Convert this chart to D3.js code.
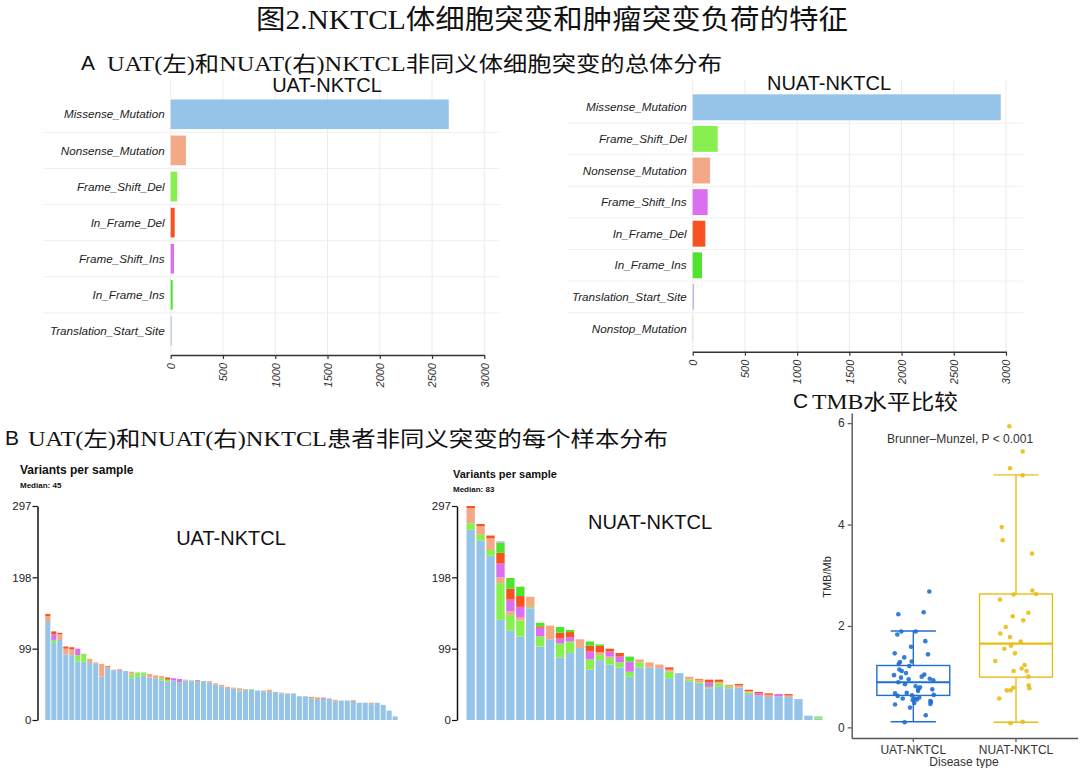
<!DOCTYPE html>
<html><head><meta charset="utf-8">
<script src="https://cdn.jsdelivr.net/npm/d3@7"></script>
<style>body{margin:0;background:#fff}</style>
</head><body><svg id="c" width="1080" height="768"></svg>
<script>
// ---------- DATA ----------
const classColors = {
  Missense_Mutation: "#95c4e8",
  Frame_Shift_Del: "#88f04e",
  Nonsense_Mutation: "#f4a986",
  Frame_Shift_Ins: "#da6ff0",
  In_Frame_Del: "#f7521f",
  In_Frame_Ins: "#4ee32c",
  Translation_Start_Site: "#b9b6ea",
  Nonstop_Mutation: "#efcfca"
};
const stackKeys = ["Missense_Mutation","Frame_Shift_Del","Nonsense_Mutation","Frame_Shift_Ins","In_Frame_Del","In_Frame_Ins","Translation_Start_Site"];

// Panel A
const uatClasses = ["Missense_Mutation","Nonsense_Mutation","Frame_Shift_Del","In_Frame_Del","Frame_Shift_Ins","In_Frame_Ins","Translation_Start_Site"];
const uatCounts = [2660,146,63,38,32,19,9];
const nuatClasses = ["Missense_Mutation","Frame_Shift_Del","Nonsense_Mutation","Frame_Shift_Ins","In_Frame_Del","In_Frame_Ins","Translation_Start_Site","Nonstop_Mutation"];
const nuatCounts = [2950,239,166,143,121,89,13,6];
const countTicks = [0,500,1000,1500,2000,2500,3000];

// Panel B (per sample, by variant class)
const uatMissense = [136,107,111,91,90,81,81,79,78,60,72,69,69,68,58,60,62,59,58,55,53,55,52,55,54,54,54,52,49,47,43,44,40,42,42,41,40,39,39,37,36,37,33,33,30,29,30,30,26,27,27,26,24,24,22,24,21,13,5];
const uatFSDel    = [0,4,0,0,0,9,11,0,0,0,0,0,0,0,5,6,4,0,0,3,3,0,0,0,1,0,0,0,0,0,0,0,1,0,1,0,0,0,0,0,0,0,0,0,1,0,0,0,0,0,0,0,0,0,0,0,0,0,0];
const uatNonsense = [8,0,8,8,8,0,0,6,2,18,2,1,0,0,4,0,0,5,4,3,0,0,0,1,0,0,0,2,2,2,3,1,3,1,0,0,1,3,0,1,1,0,0,0,0,1,0,0,2,0,0,0,0,0,2,0,0,0,0];
const uatFSIns    = [0,8,0,0,0,9,0,0,0,0,0,0,0,0,0,0,0,0,0,0,0,3,5,0,0,0,0,0,0,0,0,0,0,0,0,0,0,0,0,0,0,0,0,0,0,0,0,0,0,0,0,0,0,0,0,0,0,0,0];
const uatIFDel    = [3,4,2,3,3,0,0,0,0,0,1,0,1,0,0,0,0,0,0,0,3,0,0,0,0,1,0,0,0,0,0,0,0,0,0,0,0,0,0,0,0,0,0,0,1,1,1,0,0,0,0,1,0,0,0,0,0,0,0];

const nuatMissense = [264,249,228,139,124,116,155,102,112,87,93,100,70,83,77,73,60,73,73,72,58,65,53,50,44,46,44,45,36,34,32,33,32,29,6,2];
const nuatFSDel    = [9,8,8,51,22,22,2,14,0,19,16,0,14,7,9,7,7,7,0,0,9,0,3,2,2,5,2,0,2,0,0,0,0,0,0,3];
const nuatNonsense = [21,12,16,8,5,4,14,0,19,0,0,12,0,4,2,0,0,4,7,5,3,0,4,4,0,2,3,3,2,0,3,0,2,0,0,0];
const nuatFSIns    = [0,0,0,19,16,15,0,12,0,7,6,0,11,0,7,8,14,0,0,0,0,0,0,0,6,0,0,0,0,3,0,3,0,0,0,0];
const nuatIFDel    = [3,3,4,15,15,15,0,2,0,8,7,0,8,9,4,5,0,0,0,0,3,0,0,1,4,3,0,2,2,2,2,0,2,0,0,0];
const nuatIFIns    = [0,0,0,14,15,13,0,5,0,8,3,0,6,2,0,0,7,0,0,0,0,0,0,0,0,0,0,0,0,0,0,0,0,0,0,0];
const nuatTSS      = [0,0,0,2,0,0,0,0,0,0,0,0,0,0,0,0,0,0,0,0,0,0,0,0,0,0,0,0,0,0,0,0,0,0,0,0];
const variantTicks = [0,99,198,297];

// Panel C (TMB per sample; jitter = horizontal offset in category widths)
const tmbGroups = ["UAT-NKTCL","NUAT-NKTCL"];
const uatTMB = [2.68,2.23,2.27,1.89,1.89,1.83,1.70,1.59,1.46,1.44,1.38,1.29,1.30,1.25,1.21,1.14,1.11,1.07,1.03,1.04,0.96,1.00,0.93,0.89,0.85,0.81,0.79,0.75,0.75,0.67,0.68,0.62,0.64,0.57,0.57,0.59,0.54,0.52,0.48,0.46,0.45,0.39,0.24,0.10,0.50,0.63,0.98,0.95,0.72,0.55];
const uatJitter = [0.156,-0.146,0.101,-0.117,0.023,-0.156,0.117,-0.022,-0.181,0.143,-0.088,-0.130,-0.016,-0.142,-0.039,-0.136,-0.113,-0.071,-0.188,0.107,0.160,0.082,0.195,-0.146,-0.081,0.023,0.065,0.049,0.185,-0.178,-0.064,-0.152,0.199,-0.103,0.017,0.058,-0.006,0.166,0.010,0.166,-0.178,-0.032,0.121,-0.084,0.172,-0.013,-0.120,-0.045,0.046,0.036];
const nuatTMB = [5.94,5.44,5.11,4.97,3.95,3.69,3.43,2.70,2.63,2.62,2.52,2.26,2.19,2.11,1.98,1.85,1.78,1.69,1.61,1.55,1.46,1.31,1.23,1.16,1.11,1.11,1.00,0.83,0.77,0.78,0.73,0.73,0.57,0.08,0.11];
const nuatJitter = [-0.065,0.065,-0.058,0.065,-0.139,-0.130,0.156,0.159,0.195,-0.023,-0.156,0.120,-0.032,0.071,-0.100,-0.153,-0.058,0.045,-0.049,-0.114,-0.010,-0.202,0.084,0.055,-0.023,0.103,0.120,0.124,0.130,-0.026,-0.090,-0.052,-0.163,-0.052,0.065];
const tmbStats = { // whisker low, q1, median, q3, whisker high
  "UAT-NKTCL":  [0.11,0.63,0.89,1.22,1.90],
  "NUAT-NKTCL": [0.10,0.99,1.65,2.63,4.98]
};
const tmbColors = {"UAT-NKTCL":"#1f6fd1","NUAT-NKTCL":"#e9bd14"};
const tmbTicks = [0,2,4,6];

// ---------- DRAW ----------
const svg = d3.select("#c");
const SANS = "'Liberation Sans', Arial, sans-serif";
const SERIF = "'Liberation Serif','Noto Sans CJK SC',serif";

// Headings
svg.append("text").attr("x",256).attr("y",29).attr("font-family",SERIF).attr("font-size",27)
  .attr("textLength",592).attr("lengthAdjust","spacingAndGlyphs").attr("fill","#111")
  .text("图2.NKTCL体细胞突变和肿瘤突变负荷的特征");
function heading(letter, lx, text, tx, y, len){
  svg.append("text").attr("x",lx).attr("y",y-1).attr("font-family",SANS).attr("font-size",21).attr("fill","#111").text(letter);
  svg.append("text").attr("x",tx).attr("y",y).attr("font-family",SERIF).attr("font-size",21)
    .attr("textLength",len).attr("lengthAdjust","spacingAndGlyphs").attr("fill","#111").text(text);
}
heading("A",81,"UAT(左)和NUAT(右)NKTCL非同义体细胞突变的总体分布",107,71,615);
heading("B",5,"UAT(左)和NUAT(右)NKTCL患者非同义突变的每个样本分布",28,446,640);
heading("C",793,"TMB水平比较",812,409,146);

// Panel A
function drawA(cfg){
  const g = svg.append("g");
  const x = d3.scaleLinear().domain([0,3000]).range([cfg.x0, cfg.x1]);
  const y = d3.scaleBand().domain(cfg.classes).range([cfg.yTop, cfg.yBot]).paddingInner(0.18).paddingOuter(0.09);
  g.selectAll(".vg").data(countTicks).join("line")
    .attr("x1",d=>x(d)).attr("x2",d=>x(d)).attr("y1",cfg.gridTop).attr("y2",cfg.axisY)
    .attr("stroke","#ececec").attr("stroke-width",1);
  const bounds = cfg.classes.slice(1).map(c=>y(c) - y.step()*0.09);
  g.selectAll(".hg").data(bounds).join("line")
    .attr("x1",cfg.gl).attr("x2",cfg.gr).attr("y1",d=>d).attr("y2",d=>d)
    .attr("stroke","#f0f0f0").attr("stroke-width",1);
  g.selectAll("rect").data(cfg.counts).join("rect")
    .attr("x",x(0)).attr("y",(d,i)=>y(cfg.classes[i]))
    .attr("width",d=>x(d)-x(0)).attr("height",y.bandwidth())
    .attr("fill",(d,i)=>classColors[cfg.classes[i]]);
  g.selectAll(".lab").data(cfg.classes).join("text")
    .attr("x",cfg.x0-6).attr("y",d=>y(d)+y.bandwidth()/2).attr("dy","0.35em")
    .attr("text-anchor","end").attr("font-family",SANS).attr("font-style","italic")
    .attr("font-size",11.7).attr("fill","#222").text(d=>d);
  const ax = g.append("g").attr("transform",`translate(0,${cfg.axisY})`)
    .call(d3.axisBottom(x).tickValues(countTicks).tickFormat(d3.format("d")).tickSize(4).tickSizeOuter(0));
  ax.select(".domain").attr("stroke","#333").attr("stroke-width",1.5);
  ax.selectAll(".tick line").attr("stroke","#333").attr("stroke-width",1.2);
  ax.selectAll("text").attr("font-family",SANS).attr("font-style","italic").attr("font-size",11).attr("fill","#333")
    .attr("transform","rotate(-90)").attr("x",-8).attr("y",0).attr("dy","0.35em").style("text-anchor","end");
  g.append("text").attr("x",cfg.titleX).attr("y",cfg.titleY).attr("text-anchor","middle")
    .attr("font-family",SANS).attr("font-size",20).attr("fill","#111").text(cfg.title);
}
drawA({classes:uatClasses,counts:uatCounts,x0:170.7,x1:484.3,yTop:96.25,yBot:349,axisY:355,gridTop:80,gl:43,gr:500,title:"UAT-NKTCL",titleX:327,titleY:92});
drawA({classes:nuatClasses,counts:nuatCounts,x0:692.7,x1:1006,yTop:91.5,yBot:344.3,axisY:351.7,gridTop:80,gl:567,gr:1023,title:"NUAT-NKTCL",titleX:829,titleY:90});

// Panel B
function drawB(cfg){
  const g = svg.append("g");
  const n = cfg.series.Missense_Mutation.length;
  const rows = d3.range(n).map(i=>{
    const r = {id:i};
    stackKeys.forEach(k=>{ r[k] = cfg.series[k] ? cfg.series[k][i] : 0; });
    return r;
  });
  const stacked = d3.stack().keys(stackKeys)(rows);
  const x = d3.scaleBand().domain(d3.range(n)).range([cfg.x0,cfg.x1]).paddingInner(cfg.pad).paddingOuter(0.05);
  const y = d3.scaleLinear().domain([0,297]).range([720,506]);
  g.selectAll("g.layer").data(stacked).join("g").attr("fill",d=>classColors[d.key])
    .selectAll("rect").data(d=>d).join("rect")
    .attr("x",(d,i)=>x(i)).attr("width",x.bandwidth())
    .attr("y",d=>y(d[1])).attr("height",d=>y(d[0])-y(d[1]));
  const ax = g.append("g").attr("transform",`translate(${cfg.axisX},0)`)
    .call(d3.axisLeft(y).tickValues(variantTicks).tickSize(5).tickSizeOuter(0));
  ax.select(".domain").attr("stroke","#111").attr("stroke-width",1.5);
  ax.selectAll(".tick line").attr("stroke","#111").attr("stroke-width",1.2);
  ax.selectAll("text").attr("font-family",SANS).attr("font-size",11.5).attr("fill","#222").attr("x",-6);
  g.append("text").attr("x",cfg.tx).attr("y",cfg.ty).attr("font-family",SANS).attr("font-weight","bold")
    .attr("font-size",cfg.tsize).attr("fill","#111").text("Variants per sample");
  g.append("text").attr("x",cfg.tx).attr("y",cfg.ty+14).attr("font-family",SANS).attr("font-weight","bold")
    .attr("font-size",8).attr("fill","#111").text("Median: "+cfg.median);
  g.append("text").attr("x",cfg.labX).attr("y",cfg.labY).attr("text-anchor","middle")
    .attr("font-family",SANS).attr("font-size",20).attr("fill","#111").text(cfg.label);
}
drawB({series:{Missense_Mutation:uatMissense,Frame_Shift_Del:uatFSDel,Nonsense_Mutation:uatNonsense,Frame_Shift_Ins:uatFSIns,In_Frame_Del:uatIFDel},
  x0:45,x1:398,pad:0.15,axisX:37.5,tx:20,ty:474,tsize:12,median:45,label:"UAT-NKTCL",labX:231,labY:545});
drawB({series:{Missense_Mutation:nuatMissense,Frame_Shift_Del:nuatFSDel,Nonsense_Mutation:nuatNonsense,Frame_Shift_Ins:nuatFSIns,In_Frame_Del:nuatIFDel,In_Frame_Ins:nuatIFIns,Translation_Start_Site:nuatTSS},
  x0:466,x1:823,pad:0.16,axisX:457,tx:453,ty:478,tsize:11,median:83,label:"NUAT-NKTCL",labX:650,labY:529});

// Panel C
(function(){
  const g = svg.append("g");
  const x = d3.scaleBand().domain(tmbGroups).range([851.7,1077.6]).paddingInner(0).paddingOuter(0.1);
  const y = d3.scaleLinear().domain([-0.21,6.2]).range([738,413]);
  const cx = c => x(c) + x.bandwidth()/2;
  const step = x.step();
  tmbGroups.forEach(c=>{
    const s = tmbStats[c], col = tmbColors[c], X = cx(c);
    const bw = 0.355*step, cw = 0.22*step;
    g.append("line").attr("x1",X).attr("x2",X).attr("y1",y(s[3])).attr("y2",y(s[4])).attr("stroke",col).attr("stroke-width",1.4);
    g.append("line").attr("x1",X).attr("x2",X).attr("y1",y(s[0])).attr("y2",y(s[1])).attr("stroke",col).attr("stroke-width",1.4);
    [s[0],s[4]].forEach(v=>g.append("line").attr("x1",X-cw).attr("x2",X+cw).attr("y1",y(v)).attr("y2",y(v)).attr("stroke",col).attr("stroke-width",1.4));
    g.append("rect").attr("x",X-bw).attr("width",2*bw).attr("y",y(s[3])).attr("height",y(s[1])-y(s[3]))
      .attr("fill","none").attr("stroke",col).attr("stroke-width",1.4);
    g.append("line").attr("x1",X-bw).attr("x2",X+bw).attr("y1",y(s[2])).attr("y2",y(s[2])).attr("stroke",col).attr("stroke-width",2.2);
  });
  const pts = [];
  uatTMB.forEach((v,i)=>pts.push({g:"UAT-NKTCL",v,j:uatJitter[i]}));
  nuatTMB.forEach((v,i)=>pts.push({g:"NUAT-NKTCL",v,j:nuatJitter[i]}));
  g.selectAll("circle").data(pts).join("circle")
    .attr("cx",d=>cx(d.g)+d.j*step).attr("cy",d=>y(d.v)).attr("r",2.3)
    .attr("fill",d=>tmbColors[d.g]).attr("opacity",0.9);
  const ay = g.append("g").attr("transform","translate(851.7,0)").call(d3.axisLeft(y).tickValues(tmbTicks).tickFormat(d3.format("d")).tickSize(4).tickSizeOuter(0));
  const axx = g.append("g").attr("transform","translate(0,738)").call(d3.axisBottom(x).tickSize(4).tickSizeOuter(0));
  [ay,axx].forEach(a=>{
    a.select(".domain").attr("stroke","#555").attr("stroke-width",1.4);
    a.selectAll(".tick line").attr("stroke","#555").attr("stroke-width",1.2);
    a.selectAll("text").attr("font-family",SANS).attr("font-size",12).attr("fill","#333");
  });
  g.append("text").attr("transform","translate(831,577) rotate(-90)").attr("text-anchor","middle")
    .attr("font-family",SANS).attr("font-size",11).attr("fill","#222").text("TMB/Mb");
  g.append("text").attr("x",964).attr("y",766).attr("text-anchor","middle")
    .attr("font-family",SANS).attr("font-size",12).attr("fill","#333").text("Disease type");
  g.append("text").attr("x",960).attr("y",443).attr("text-anchor","middle")
    .attr("font-family",SANS).attr("font-size",12).attr("fill","#333").text("Brunner–Munzel, P < 0.001");
})();
</script></body></html>
